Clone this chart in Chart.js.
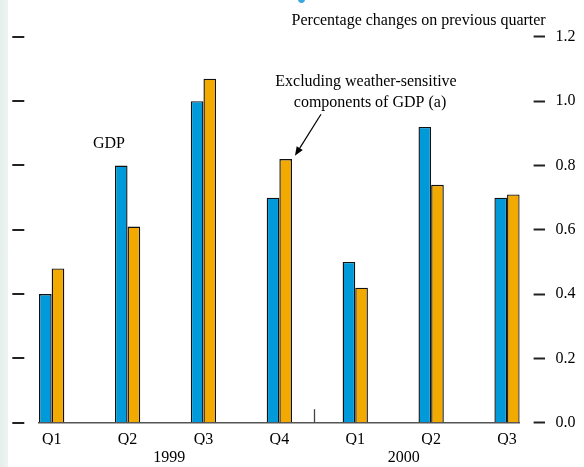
<!DOCTYPE html>
<html>
<head>
<meta charset="utf-8">
<script src="https://cdn.jsdelivr.net/npm/chart.js@4/dist/chart.umd.min.js"></script>
<style>
  html, body { margin: 0; padding: 0; }
  body { width: 584px; height: 467px; overflow: hidden;
         background: linear-gradient(to right, #e4eeeb 0px, #eef4f2 8px, #ffffff 8px); }
  canvas { display: block; }
</style>
</head>
<body>
<canvas id="c" width="584" height="467"></canvas>
<script>
// ---- data ----
const quarters = ['Q1', 'Q2', 'Q3', 'Q4', 'Q1', 'Q2', 'Q3'];
const yearLabels = ['1999', '2000'];
const gdp = [0.40, 0.80, 1.00, 0.70, 0.50, 0.92, 0.70];
const exWeather = [0.48, 0.61, 1.07, 0.82, 0.42, 0.74, 0.71];
const seriesNames = ['GDP', 'Excluding weather-sensitive components of GDP (a)'];
const yTickLabels = ['0.0', '0.2', '0.4', '0.6', '0.8', '1.0', '1.2'];

const FONT = '"Liberation Serif", "Times New Roman", serif';
const BLUE = '#0099d9';
const ORANGE = '#f2a900';
const HALF = 0.1667;
const XMIN = -HALF, XMAX = quarters.length - 1 + HALF;

const annotations = {
  id: 'annotations',
  afterDraw(chart) {
    const ctx = chart.ctx;
    const xs = chart.scales.x, ys = chart.scales.y, yl = chart.scales.yL;
    ctx.save();
    // left-hand tick marks (no labels), taken from the left scale's ticks
    ctx.strokeStyle = '#222';
    ctx.lineWidth = 2;
    yl.ticks.forEach(t => {
      const py = Math.round(yl.getPixelForValue(t.value));
      ctx.beginPath();
      ctx.moveTo(12.3, py);
      ctx.lineTo(24.3, py);
      ctx.stroke();
    });
    ctx.fillStyle = '#000';
    ctx.font = '16px ' + FONT;
    ctx.textBaseline = 'alphabetic';
    // header
    ctx.textAlign = 'right';
    ctx.fillText('Percentage changes on previous quarter', 545.7, 25);
    // series labels
    ctx.textAlign = 'center';
    ctx.fillText('Excluding weather-sensitive', 366, 85.7);
    ctx.fillText('components of GDP (a)', 370, 106.7);
    ctx.textAlign = 'left';
    ctx.fillText('GDP', 93, 147.7);
    // arrow to Q4 1999 orange bar
    const tipX = xs.getPixelForValue(3) + 15.6;
    const tipY = ys.getPixelForValue(exWeather[3]) - 3.3;
    const fromX = 321, fromY = 114.3;
    const ang = Math.atan2(tipY - fromY, tipX - fromX);
    const L = 9, W = 3.6;
    const bx = tipX - L * Math.cos(ang), by = tipY - L * Math.sin(ang);
    ctx.strokeStyle = '#000';
    ctx.lineWidth = 1.2;
    ctx.beginPath();
    ctx.moveTo(fromX, fromY);
    ctx.lineTo(bx, by);
    ctx.stroke();
    ctx.beginPath();
    ctx.moveTo(tipX, tipY);
    ctx.lineTo(bx + W * Math.sin(ang), by - W * Math.cos(ang));
    ctx.lineTo(bx - W * Math.sin(ang), by + W * Math.cos(ang));
    ctx.closePath();
    ctx.fill();
    // year divider tick
    const dx = Math.round(xs.getPixelForValue(3.45)) + 0.5;
    const y0 = ys.getPixelForValue(0);
    ctx.strokeStyle = '#444';
    ctx.lineWidth = 1.3;
    ctx.beginPath();
    ctx.moveTo(dx, y0 - 13.5);
    ctx.lineTo(dx, y0);
    ctx.stroke();
    // small blue fragment at top edge
    ctx.fillStyle = '#3aa8e0';
    ctx.beginPath();
    ctx.ellipse(301.5, -2.5, 4, 5.5, 0, 0, Math.PI * 2);
    ctx.fill();
    ctx.restore();
  }
};

new Chart(document.getElementById('c'), {
  type: 'bar',
  data: {
    datasets: [
      { label: seriesNames[0], data: gdp.map((v, i) => ({ x: i, y: v })),
        backgroundColor: BLUE, borderColor: '#111', borderWidth: 1.4, yAxisID: 'y' },
      { label: seriesNames[1], data: exWeather.map((v, i) => ({ x: i, y: v })),
        backgroundColor: ORANGE, borderColor: '#111', borderWidth: 1.4, yAxisID: 'y' }
    ]
  },
  options: {
    responsive: false,
    animation: false,
    events: [],
    categoryPercentage: 0.3334,
    barPercentage: 1.0,
    layout: { padding: { top: 36.9, left: 0, right: 0, bottom: 0 } },
    plugins: { legend: { display: false }, tooltip: { enabled: false }, title: { display: false } },
    scales: {
      x: {
        type: 'linear', position: 'bottom', min: XMIN, max: XMAX, weight: 0, offset: false,
        afterBuildTicks(s) { s.ticks = quarters.map((q, i) => ({ value: i })); },
        afterFit(s) { s.height = 22; },
        ticks: { autoSkip: false, maxRotation: 0, padding: 7, color: '#000',
                 font: { family: FONT, size: 16 },
                 callback: (v, i) => quarters[i] },
        grid: { display: false, drawTicks: false, offset: false },
        border: { display: true, color: '#555', width: 1.5 }
      },
      x2: {
        type: 'linear', position: 'bottom', min: XMIN, max: XMAX, weight: 1, offset: false,
        afterBuildTicks(s) { s.ticks = [{ value: 1.55 }, { value: 4.64 }]; },
        afterFit(s) { s.height = 22.3; },
        ticks: { autoSkip: false, maxRotation: 0, padding: 3, color: '#000',
                 font: { family: FONT, size: 16 },
                 callback: (v, i) => yearLabels[i] },
        grid: { display: false, drawTicks: false, offset: false },
        border: { display: false }
      },
      y: {
        type: 'linear', position: 'right', min: 0, max: 1.2,
        afterBuildTicks(s) { s.ticks = yTickLabels.map(t => ({ value: parseFloat(t) })); },
        afterFit(s) { s.width = 64.3; },
        ticks: { padding: 10.5, color: '#000', font: { family: FONT, size: 16 },
                 callback: (v, i) => yTickLabels[i] },
        grid: { drawOnChartArea: false, drawTicks: true, tickLength: 25.3,
                tickColor: '#222', tickWidth: 2, tickBorderDash: [0, 13.6, 11.7, 100] },
        border: { display: false }
      },
      yL: {
        type: 'linear', position: 'left', min: 0, max: 1.2,
        afterBuildTicks(s) { s.ticks = yTickLabels.map(t => ({ value: parseFloat(t) })); },
        afterFit(s) { s.width = 39; },
        ticks: { display: false },
        grid: { display: false, drawTicks: false },
        border: { display: false }
      }
    }
  },
  plugins: [annotations]
});
</script>
</body>
</html>
